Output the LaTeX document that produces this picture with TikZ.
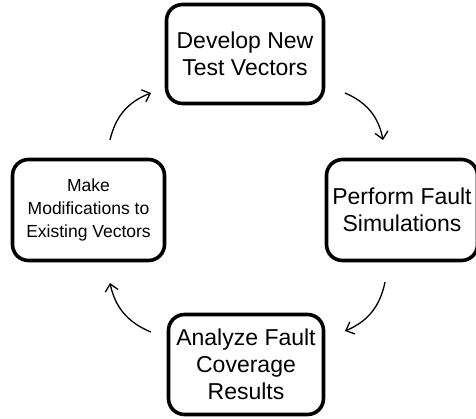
\documentclass[tikz,border=0pt]{standalone}
\usepackage{fontspec}
\setmainfont{Liberation Sans}
\usetikzlibrary{arrows.meta}
\begin{document}
\begin{tikzpicture}[x=1pt,y=-1pt,
  stepbox/.style={draw, line width=3.6pt, rounded corners=16pt, align=center, inner sep=0pt},
  big/.style={font=\fontsize{23}{27}\selectfont},
  small/.style={font=\fontsize{17.5}{23}\selectfont},
  cyc/.style={line width=1.3pt, bend left=28, -{Straight Barb[length=7pt,width=13pt,line width=1.3pt]}}]
\useasboundingbox (0,0) rectangle (476,418);
\node[stepbox,big,minimum width=157pt,minimum height=99pt] (dev) at (245,54) {Develop New\\Test Vectors};
\node[stepbox,big,minimum width=151pt,minimum height=101pt] (sim) at (402,210) {Perform Fault\\Simulations};
\node[stepbox,big,minimum width=155pt,minimum height=100pt] (ana) at (246,364.5) {Analyze Fault\\Coverage\\Results};
\node[stepbox,small,minimum width=152pt,minimum height=101pt] (mod) at (88.5,210) {Make\\Modifications to\\Existing Vectors};
\coordinate (a1s) at (110,140);
\coordinate (a1e) at (151,93);
\coordinate (a2s) at (345,93);
\coordinate (a2e) at (383,140);
\coordinate (a3s) at (385,282);
\coordinate (a3e) at (345,331);
\coordinate (a4s) at (151,332);
\coordinate (a4e) at (110,283);
\draw[cyc] (a1s) to (a1e);
\draw[cyc] (a2s) to (a2e);
\draw[cyc] (a3s) to (a3e);
\draw[cyc] (a4s) to (a4e);
\end{tikzpicture}
\end{document}
